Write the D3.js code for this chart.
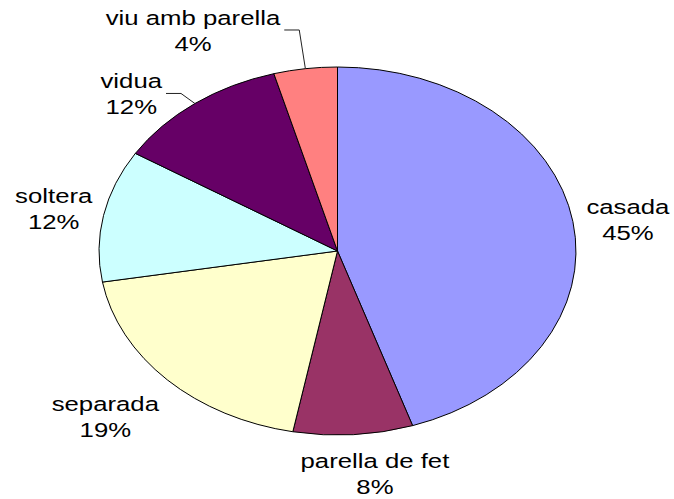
<!DOCTYPE html>
<html>
<head>
<meta charset="utf-8">
<script src="https://cdn.jsdelivr.net/npm/d3@7"></script>
<style>
  body { margin: 0; background: #fff; }
  svg { display: block; }
  text { font-family: "Liberation Sans", Arial, sans-serif; font-size: 19.5px; fill: #000; }
</style>
</head>
<body>
<svg width="674" height="499"></svg>
<script>
const categories = ['casada', 'parella de fet', 'separada', 'soltera', 'vidua', 'viu amb parella']
const values = [44.9, 8.1, 19.3, 11.6, 11.8, 4.3]
const colors = ['#9999FF', '#993366', '#FFFFCC', '#CCFFFF', '#660066', '#FF8080']
// manual label shifts (px) like the hand-moved Excel labels
const nudges = [[2, 5], [16, 5], [-15, 14], [0, 1], [-38, 20], [-99, -2]]
const leaders = [false, false, false, false, true, true]

const svg = d3.select('svg')
const cx = 337.5, cy = 251
const ry = 184, stretch = 1.296
const rx = ry * stretch
const textScale = 1.32
const gap = 12

const total = d3.sum(values)
const pie = d3.pie().sort(null).startAngle(0).endAngle(2 * Math.PI)
const arcs = pie(values)
const arc = d3.arc().innerRadius(0).outerRadius(ry)

const $pie = svg.append('g')
  .attr('transform', `translate(${cx},${cy}) scale(${stretch},1)`)

$pie.selectAll('path').data(arcs)
  .enter().append('path')
  .attr('d', arc)
  .attr('fill', (d, i) => colors[i])
  .attr('stroke', '#000')
  .attr('stroke-width', 1)
  .attr('vector-effect', 'non-scaling-stroke')

const edge = a => {
  const m = (a.startAngle + a.endAngle) / 2
  return { s: Math.sin(m), c: Math.cos(m), x: cx + Math.sin(m) * rx, y: cy - Math.cos(m) * ry }
}

const $labels = svg.append('g')
arcs.forEach((a, i) => {
  const e = edge(a)
  const g = $labels.append('g')
  g.append('text').attr('text-anchor', 'middle').attr('y', -7).text(categories[i])
  g.append('text').attr('text-anchor', 'middle').attr('y', 19)
    .text(Math.round(values[i] / total * 100) + '%')
  g.attr('transform', `scale(${textScale},1)`)
  const w = g.node().getBBox().width * textScale
  const h = 46
  const lx = e.x + e.s * (w / 2 + gap) + nudges[i][0]
  const ly = e.y - e.c * (h / 2 + gap) + nudges[i][1]
  g.attr('transform', `translate(${lx},${ly}) scale(${textScale},1)`)

  if (leaders[i]) {
    const w1 = g.select('text').node().getComputedTextLength() * textScale
    const sx = lx + w1 / 2 + 4
    const sy = ly - 2
    svg.append('polyline')
      .attr('points', [[sx, sy], [sx + 15, sy], [e.x, e.y]].map(p => p.join(',')).join(' '))
      .attr('fill', 'none')
      .attr('stroke', '#222')
      .attr('stroke-width', 1)
  }
})
</script>
</body>
</html>
